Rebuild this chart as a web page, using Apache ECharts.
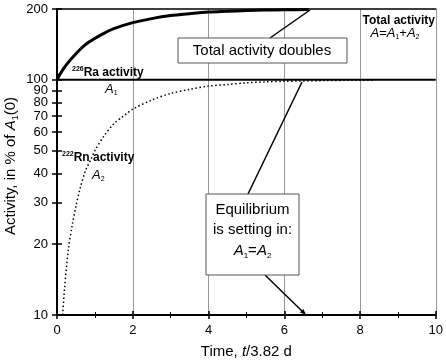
<!DOCTYPE html>
<html>
<head>
<meta charset="utf-8">
<script src="https://cdn.jsdelivr.net/npm/echarts@6/dist/echarts.min.js"></script>
<style>
  html, body { margin: 0; padding: 0; background: #fff; }
  #chart { width: 446px; height: 364px; }
</style>
</head>
<body>
<div id="chart"></div>
<script>
// time in units of the Rn half-life (t/3.82 d)
var timeA1 = [0, 10];
var a1 = [100, 100];

var timeA2 = [0.15, 0.2, 0.3, 0.4, 0.5, 0.6, 0.75, 0.9, 1, 1.25, 1.5, 1.75, 2, 2.5, 3, 3.5, 4, 4.5, 5, 5.5, 6, 7, 8, 8.4];
var a2 = [10, 13, 19, 24, 29, 34, 41, 46, 50, 58, 65, 70, 75, 82, 87.5, 91, 94, 95.5, 97, 98, 98.5, 99.2, 99.6, 99.7];

var timeTotal = [0, 0.1, 0.25, 0.5, 0.75, 1, 1.25, 1.5, 2, 2.5, 3, 3.5, 4, 4.5, 5, 5.5, 6, 6.65];
var total = [100, 107, 116, 129, 141, 150, 158, 165, 175, 182, 187.5, 191, 194, 195.5, 197, 198, 198.5, 199];

var yTicks = [10, 20, 30, 40, 50, 60, 70, 80, 90, 100, 200];

var FONT = 'Liberation Sans, Arial, sans-serif';

function pairs(xs, ys) {
  var out = [];
  for (var i = 0; i < xs.length; i++) out.push([xs[i], ys[i]]);
  return out;
}

var chart = echarts.init(document.getElementById('chart'), null, { renderer: 'canvas' });

var option = {
  animation: false,
  textStyle: { fontFamily: FONT },
  grid: { left: 57, right: 10, top: 9, bottom: 48, containLabel: false },
  xAxis: [
    {
      type: 'value', position: 'bottom', min: 0, max: 10, interval: 2,
      axisLine: { lineStyle: { color: '#000', width: 2 } },
      axisTick: { inside: false, length: 4, lineStyle: { color: '#000', width: 1.5 } },
      minorTick: { show: true, splitNumber: 2, length: 3, lineStyle: { color: '#000', width: 1 } },
      axisLabel: { color: '#000', fontSize: 13, margin: 9, fontFamily: FONT },
      splitLine: { show: true, lineStyle: { color: '#999', width: 1 } },
      name: 'Time, {i|t}/3.82 d', nameLocation: 'middle', nameGap: 29,
      nameTextStyle: {
        color: '#000', fontSize: 15, fontFamily: FONT,
        rich: { i: { fontStyle: 'italic', fontSize: 15, color: '#000', fontFamily: FONT } }
      }
    },
    {
      type: 'value', position: 'bottom', min: 0, max: 10, interval: 2,
      axisLine: { show: false },
      axisTick: { inside: true, length: 4, lineStyle: { color: '#000', width: 1.5 } },
      minorTick: { show: true, splitNumber: 2, length: 3, lineStyle: { color: '#000', width: 1 } },
      axisLabel: { show: false },
      splitLine: { show: false }
    },
    {
      type: 'value', position: 'top', min: 0, max: 10,
      axisLine: { lineStyle: { color: '#000', width: 1.5 } },
      axisTick: { show: false },
      axisLabel: { show: false },
      splitLine: { show: false }
    }
  ],
  yAxis: [
    {
      type: 'log', logBase: 10, min: 10, max: 200, position: 'left',
      axisLine: { lineStyle: { color: '#000', width: 2 } },
      axisTick: { inside: false, length: 5, customValues: yTicks, lineStyle: { color: '#000', width: 1.5 } },
      axisLabel: { color: '#000', fontSize: 13, margin: 9, customValues: yTicks, fontFamily: FONT },
      splitLine: { show: false }
    },
    {
      type: 'log', logBase: 10, min: 10, max: 200, position: 'left',
      axisLine: { show: false },
      axisTick: { inside: true, length: 5, customValues: yTicks, lineStyle: { color: '#000', width: 1.5 } },
      axisLabel: { show: false, customValues: yTicks },
      splitLine: { show: false }
    }
  ],
  series: [
    {
      name: 'A1', type: 'line', data: pairs(timeA1, a1), showSymbol: false,
      lineStyle: { color: '#000', width: 2 }
    },
    {
      name: 'A2', type: 'line', data: pairs(timeA2, a2), showSymbol: false, smooth: 0.3,
      lineStyle: { color: '#000', width: 1.5, type: [1.5, 2.5] }
    },
    {
      name: 'A', type: 'line', data: pairs(timeTotal, total), showSymbol: false, smooth: 0.3,
      lineStyle: { color: '#000', width: 3 }
    }
  ],
  graphic: [
    // y axis title
    {
      type: 'text', x: 11, y: 166, rotation: Math.PI / 2,
      style: {
        text: 'Activity, in % of {i|A}{s|1}(0)',
        fill: '#000', font: '15px ' + FONT, align: 'center', verticalAlign: 'middle',
        rich: {
          i: { fontStyle: 'italic', fontSize: 15, lineHeight: 18, fill: '#000', fontFamily: FONT },
          s: { fontSize: 9, lineHeight: 9, verticalAlign: 'bottom', fill: '#000', fontFamily: FONT }
        }
      }
    },
    // pointer lines
    { type: 'line', shape: { x1: 270, y1: 38, x2: 310, y2: 10 }, style: { stroke: '#000', lineWidth: 1.5 }, z: 10 },
    { type: 'line', shape: { x1: 248, y1: 194, x2: 302, y2: 82 }, style: { stroke: '#000', lineWidth: 1.5 }, z: 10 },
    { type: 'line', shape: { x1: 265, y1: 275, x2: 304, y2: 313 }, style: { stroke: '#000', lineWidth: 1.5 }, z: 10 },
    { type: 'polygon', shape: { points: [[306, 315], [300, 312.6], [303.5, 309]] }, style: { fill: '#000' }, z: 10 },
    // boxes
    { type: 'rect', shape: { x: 178, y: 38, width: 169, height: 25 }, style: { fill: '#fff', stroke: '#555', lineWidth: 1 }, z: 11 },
    {
      type: 'text', x: 262, y: 51, z: 12,
      style: { text: 'Total activity doubles', fill: '#000', font: '15px ' + FONT, align: 'center', verticalAlign: 'middle' }
    },
    { type: 'rect', shape: { x: 206, y: 194, width: 93, height: 81 }, style: { fill: '#fff', stroke: '#555', lineWidth: 1 }, z: 11 },
    {
      type: 'text', x: 252.5, y: 210, z: 12,
      style: { text: 'Equilibrium', fill: '#000', font: '15px ' + FONT, align: 'center', verticalAlign: 'middle' }
    },
    {
      type: 'text', x: 252.5, y: 230, z: 12,
      style: { text: 'is setting in:', fill: '#000', font: '15px ' + FONT, align: 'center', verticalAlign: 'middle' }
    },
    {
      type: 'text', x: 252.5, y: 251, z: 12,
      style: {
        text: '{i|A}{s|1}{n|=}{i|A}{s|2}', align: 'center', verticalAlign: 'middle',
        rich: {
          i: { fontStyle: 'italic', fontSize: 15, lineHeight: 18, fill: '#000', fontFamily: FONT },
          n: { fontSize: 15, lineHeight: 18, fill: '#000', fontFamily: FONT },
          s: { fontSize: 8, lineHeight: 8, verticalAlign: 'bottom', fill: '#000', fontFamily: FONT }
        }
      }
    },
    // series labels
    {
      type: 'text', x: 72, y: 73, z: 12,
      style: {
        text: '{s|226}{b|Ra activity}', verticalAlign: 'middle',
        rich: {
          b: { fontWeight: 'bold', fontSize: 12, lineHeight: 15, fill: '#000', fontFamily: FONT },
          s: { fontWeight: 'bold', fontSize: 7, lineHeight: 7, verticalAlign: 'top', fill: '#000', fontFamily: FONT }
        }
      }
    },
    {
      type: 'text', x: 105, y: 89, z: 12,
      style: {
        text: '{i|A}{s|1}', verticalAlign: 'middle',
        rich: {
          i: { fontStyle: 'italic', fontSize: 13, lineHeight: 16, fill: '#000', fontFamily: FONT },
          s: { fontSize: 7, lineHeight: 7, verticalAlign: 'bottom', fill: '#000', fontFamily: FONT }
        }
      }
    },
    {
      type: 'text', x: 62, y: 158, z: 12,
      style: {
        text: '{s|222}{b|Rn activity}', verticalAlign: 'middle',
        rich: {
          b: { fontWeight: 'bold', fontSize: 12, lineHeight: 15, fill: '#000', fontFamily: FONT },
          s: { fontWeight: 'bold', fontSize: 7, lineHeight: 7, verticalAlign: 'top', fill: '#000', fontFamily: FONT }
        }
      }
    },
    {
      type: 'text', x: 92, y: 175, z: 12,
      style: {
        text: '{i|A}{s|2}', verticalAlign: 'middle',
        rich: {
          i: { fontStyle: 'italic', fontSize: 13, lineHeight: 16, fill: '#000', fontFamily: FONT },
          s: { fontSize: 7, lineHeight: 7, verticalAlign: 'bottom', fill: '#000', fontFamily: FONT }
        }
      }
    },
    {
      type: 'text', x: 435, y: 21, z: 12,
      style: { text: 'Total activity', fill: '#000', font: 'bold 12px ' + FONT, align: 'right', verticalAlign: 'middle' }
    },
    {
      type: 'text', x: 395, y: 33, z: 12,
      style: {
        text: '{i|A}{n|=}{i|A}{s|1}{n|+}{i|A}{s|2}', align: 'center', verticalAlign: 'middle',
        rich: {
          i: { fontStyle: 'italic', fontSize: 13, lineHeight: 16, fill: '#000', fontFamily: FONT },
          n: { fontSize: 13, lineHeight: 16, fill: '#000', fontFamily: FONT },
          s: { fontSize: 7, lineHeight: 7, verticalAlign: 'bottom', fill: '#000', fontFamily: FONT }
        }
      }
    }
  ]
};

chart.setOption(option);
</script>
</body>
</html>
